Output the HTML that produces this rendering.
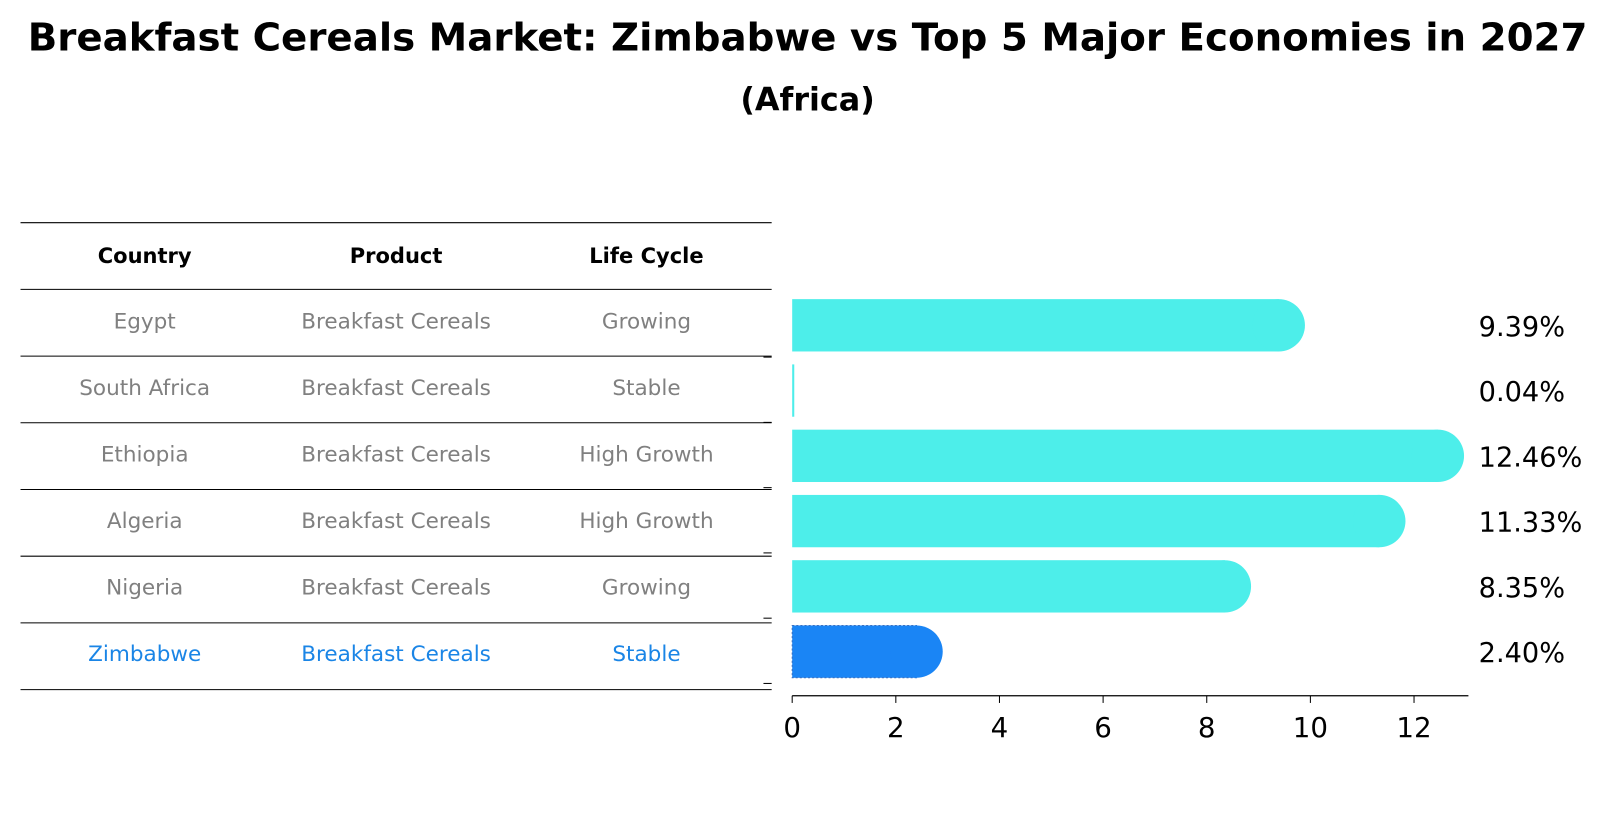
<!DOCTYPE html>
<html><head><meta charset="utf-8"><style>
body{margin:0;background:#fff;font-family:"DejaVu Sans","Liberation Sans",sans-serif}
</style></head><body>
<svg width="1609" height="823" viewBox="0 0 1568 802" preserveAspectRatio="none" xmlns="http://www.w3.org/2000/svg" font-family="DejaVu Sans, Liberation Sans, sans-serif">
<text x="787" y="37" text-anchor="middle" dominant-baseline="central" font-size="37.5" font-weight="bold" textLength="1520" lengthAdjust="spacingAndGlyphs">Breakfast Cereals Market: Zimbabwe vs Top 5 Major Economies in 2027</text>
<text x="787" y="97" text-anchor="middle" dominant-baseline="central" font-size="31" font-weight="bold">(Africa)</text>
<g id="table"></g>
<g id="bars"></g>
<g id="axis"></g>
</svg>
<script>
const countries=["Egypt","South Africa","Ethiopia","Algeria","Nigeria","Zimbabwe"];
const products=["Breakfast Cereals","Breakfast Cereals","Breakfast Cereals","Breakfast Cereals","Breakfast Cereals","Breakfast Cereals"];
const lifecycles=["Growing","Stable","High Growth","High Growth","Growing","Stable"];
const values=[9.39,0.04,12.46,11.33,8.35,2.40];
const ticks=[0,2,4,6,8,10,12];
const NS="http://www.w3.org/2000/svg";
const x0=772, pxu=50.5;
function xs(v){return x0+v*pxu;}
function rowY(i){return 317+i*63.6;}
function mk(tag,attrs,parent){const e=document.createElementNS(NS,tag);for(const k in attrs)e.setAttribute(k,attrs[k]);parent.appendChild(e);return e;}
const tbl=document.getElementById('table');
for(let i=0;i<=7;i++){const y=217+i*65;const l=mk('line',{x1:20,x2:752,y1:y,y2:y,stroke:'#000','stroke-width':1},tbl);

}
const cols=[141,386,630];
const heads=["Country","Product","Life Cycle"];
heads.forEach((h,j)=>{const t=mk('text',{x:cols[j],y:249,'text-anchor':'middle','dominant-baseline':'central','font-size':20.5,'font-weight':'bold'},tbl);t.textContent=h;

});
countries.forEach((c,i)=>{const y=314+i*64.8;const col=i===5?'#1a85e6':'#808080';
[c,products[i],lifecycles[i]].forEach((s,j)=>{const t=mk('text',{x:cols[j],y:y,'text-anchor':'middle','dominant-baseline':'central','font-size':21,fill:col},tbl);t.textContent=s;

});});
const bg=document.getElementById('bars');
values.forEach((v,i)=>{const cy=rowY(i);const h=51;const z=i===5;const fill=z?'#1a85f5':'#4deeea';
const g=mk('g',{},bg);


const w=xs(v)-x0;
if(v<0.5){mk('rect',{x:x0,y:cy-h/2,width:Math.max(w,1.5),height:h,fill:fill},g);}
else{mk('rect',{x:x0,y:cy-h/2,width:w,height:h,fill:fill,stroke:z?'#3a70c0':'none','stroke-dasharray':'2 2'},g);
mk('circle',{cx:xs(v),cy:cy,r:h/2,fill:fill},g);}
const t=mk('text',{x:1441,y:cy+2,'dominant-baseline':'central','font-size':26.5},bg);t.textContent=v.toFixed(2)+'%';


const tk=mk('line',{x1:744,x2:752,y1:cy+31,y2:cy+31,stroke:'#000'},bg);

});
const ax=document.getElementById('axis');
mk('line',{x1:x0,x2:1431,y1:678,y2:678,stroke:'#000','stroke-width':1.3},ax);
ticks.forEach(v=>{mk('line',{x1:xs(v),x2:xs(v),y1:678,y2:685,stroke:'#000'},ax);
const t=mk('text',{x:xs(v),y:709,'text-anchor':'middle','dominant-baseline':'central','font-size':27},ax);t.textContent=v;

});
</script>
</body></html>
